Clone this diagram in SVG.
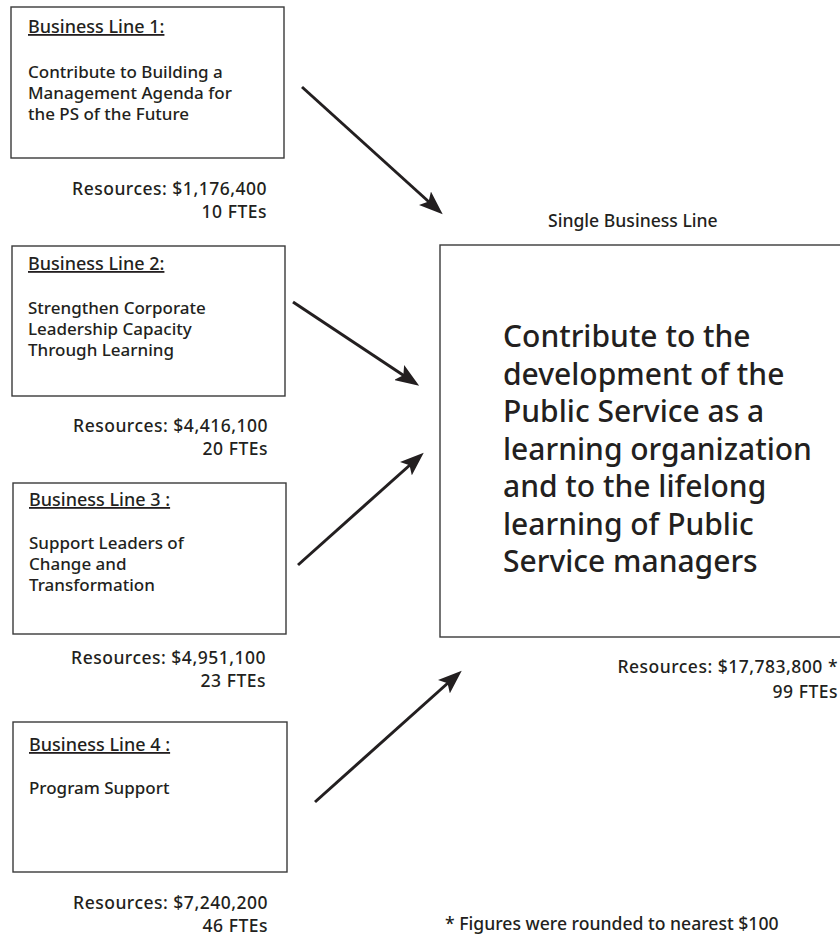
<svg xmlns="http://www.w3.org/2000/svg" width="840" height="936" viewBox="0 0 840 936">
  <style>
    text { font-family: "Noto Sans", "Open Sans", "DejaVu Sans", sans-serif; fill: #231f20; font-weight: 500; }
    .box { fill: #ffffff; stroke: #3a3a3a; stroke-width: 1.4; }
    .t { font-size: 17px; }
    .label { font-size: 17.6px; }
    .title { font-size: 18px; text-decoration: underline; }
    .res { font-size: 17.5px; letter-spacing: 0.5px; text-anchor: end; }
    .big { font-size: 30px; }
    .arrow { stroke: #231f20; stroke-width: 3; fill: none; marker-end: url(#head); }
  </style>
  <defs>
    <marker id="head" viewBox="0 0 24 18" refX="19" refY="9" markerWidth="24" markerHeight="18" markerUnits="userSpaceOnUse" orient="auto">
      <path d="M0,0 L24,9 L0,18 L5,9 Z" fill="#231f20"/>
    </marker>
  </defs>
  <rect width="840" height="936" fill="#ffffff"/>

  <g id="line1">
    <rect class="box" x="11" y="7" width="273" height="151"/>
    <text class="title" x="28" y="33">Business Line 1:</text>
    <text class="t" x="28" y="78">Contribute to Building a</text>
    <text class="t" x="28" y="99">Management Agenda for</text>
    <text class="t" x="28" y="120">the PS of the Future</text>
    <text class="res" x="267" y="195">Resources: $1,176,400</text>
    <text class="res" x="267" y="218">10 FTEs</text>
  </g>

  <g id="line2">
    <rect class="box" x="12" y="246" width="273" height="150"/>
    <text class="title" x="28" y="270">Business Line 2:</text>
    <text class="t" x="28" y="314">Strengthen Corporate</text>
    <text class="t" x="28" y="335">Leadership Capacity</text>
    <text class="t" x="28" y="356">Through Learning</text>
    <text class="res" x="268" y="432">Resources: $4,416,100</text>
    <text class="res" x="268" y="455">20 FTEs</text>
  </g>

  <g id="line3">
    <rect class="box" x="13" y="483" width="273" height="151"/>
    <text class="title" x="29" y="506">Business Line 3 :</text>
    <text class="t" x="29" y="549">Support Leaders of</text>
    <text class="t" x="29" y="570">Change and</text>
    <text class="t" x="29" y="591">Transformation</text>
    <text class="res" x="266" y="664">Resources: $4,951,100</text>
    <text class="res" x="266" y="687">23 FTEs</text>
  </g>

  <g id="line4">
    <rect class="box" x="13" y="722" width="274" height="150"/>
    <text class="title" x="29" y="751">Business Line 4 :</text>
    <text class="t" x="29" y="794">Program Support</text>
    <text class="res" x="268" y="909">Resources: $7,240,200</text>
    <text class="res" x="268" y="932">46 FTEs</text>
  </g>

  <g id="single">
    <text class="label" x="548" y="227">Single Business Line</text>
    <rect class="box" x="440" y="245" width="410" height="392"/>
    <text class="big" x="503" y="347">Contribute to the</text>
    <text class="big" x="503" y="385">development of the</text>
    <text class="big" x="503" y="422">Public Service as a</text>
    <text class="big" x="503" y="460">learning organization</text>
    <text class="big" x="503" y="497">and to the lifelong</text>
    <text class="big" x="503" y="535">learning of Public</text>
    <text class="big" x="503" y="572">Service managers</text>
    <text class="res" x="838" y="673">Resources: $17,783,800 *</text>
    <text class="res" x="838" y="698">99 FTEs</text>
  </g>

  <g id="note">
    <text class="label" x="445" y="930">* Figures were rounded to nearest $100</text>
  </g>

  <g id="connectors">
    <line class="arrow" x1="302" y1="87" x2="439" y2="211"/>
    <line class="arrow" x1="293" y1="302" x2="415" y2="383"/>
    <line class="arrow" x1="298" y1="565" x2="420" y2="456"/>
    <line class="arrow" x1="315" y1="802" x2="458" y2="674"/>
  </g>
</svg>
